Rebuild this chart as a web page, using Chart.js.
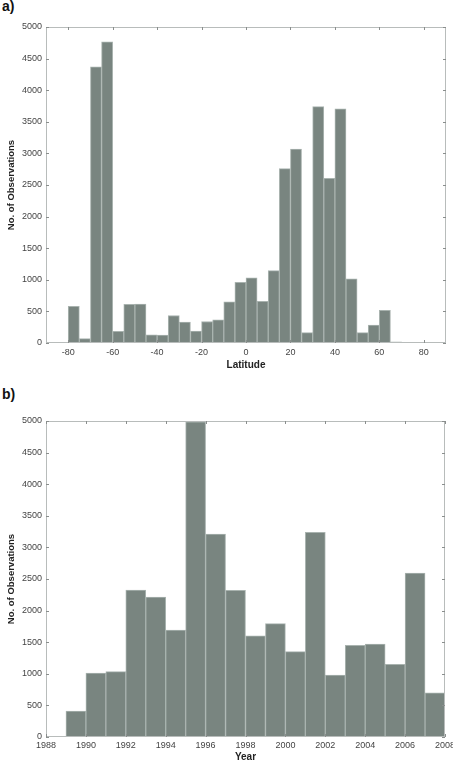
<!DOCTYPE html>
<html>
<head>
<meta charset="utf-8">
<script src="https://cdn.jsdelivr.net/npm/chart.js@4/dist/chart.umd.min.js"></script>
<style>
  html, body { margin: 0; padding: 0; background: #fff; }
  body { width: 453px; height: 763px; position: relative; overflow: hidden; font-family: "Liberation Sans", Arial, sans-serif; }
  .panel { position: absolute; left: 0; width: 453px; }
  .lab { position: absolute; left: 2px; font-weight: bold; font-size: 14px; color: #111; }
</style>
</head>
<body>
<div class="lab" style="top:-2px;">a)</div>
<div class="lab" style="top:386px;">b)</div>
<div class="panel" style="top:0;height:375px;"><canvas id="c1" width="453" height="375"></canvas></div>
<div class="panel" style="top:375px;height:388px;"><canvas id="c2" width="453" height="388"></canvas></div>
<script>
// ---- Data ----
// Latitude histogram: 5-degree bins, lower edges
const latBinStarts = [-80,-75,-70,-65,-60,-55,-50,-45,-40,-35,-30,-25,-20,-15,-10,-5,0,5,10,15,20,25,30,35,40,45,50,55,60,65];
const latCounts    = [580,70,4370,4765,185,610,615,130,125,435,330,190,340,365,650,960,1030,660,1145,2760,3070,165,3740,2605,3705,1015,165,285,515,20];
const latTicks     = [-80,-60,-40,-20,0,20,40,60,80];

// Year histogram: 1-year bins, lower edges
const yearBinStarts = [1988,1989,1990,1991,1992,1993,1994,1995,1996,1997,1998,1999,2000,2001,2002,2003,2004,2005,2006,2007];
const yearCounts    = [0,410,1010,1035,2325,2215,1690,4985,3210,2320,1600,1795,1350,3240,980,1450,1470,1150,2595,700];
const yearTicks     = [1988,1990,1992,1994,1996,1998,2000,2002,2004,2006,2008];

const countTicks    = [0,500,1000,1500,2000,2500,3000,3500,4000,4500,5000];

const BAR = '#798580';
const EDGE = '#a9b3af';

const framePlugin = {
  id: 'frame',
  afterDraw(chart) {
    const ctx = chart.ctx, a = chart.chartArea, xs = chart.scales.x, ys = chart.scales.y;
    ctx.save();
    ctx.strokeStyle = '#b8bcbb';
    ctx.lineWidth = 1;
    ctx.strokeRect(Math.round(a.left) + 0.5, Math.round(a.top) + 0.5, Math.round(a.right - a.left) - 1, Math.round(a.bottom - a.top) - 1);
    ctx.strokeStyle = '#8a8e8d';
    const L = 3;
    ctx.beginPath();
    xs.ticks.forEach(t => {
      const px = Math.round(xs.getPixelForValue(t.value)) + 0.5;
      ctx.moveTo(px, a.bottom); ctx.lineTo(px, a.bottom - L);
      ctx.moveTo(px, a.top); ctx.lineTo(px, a.top + L);
    });
    ys.ticks.forEach(t => {
      const py = Math.round(ys.getPixelForValue(t.value)) + 0.5;
      ctx.moveTo(a.left, py); ctx.lineTo(a.left + L, py);
      ctx.moveTo(a.right, py); ctx.lineTo(a.right - L, py);
    });
    ctx.stroke();
    ctx.restore();
  }
};

function makeChart(id, starts, counts, width, xmin, xmax, xticks, xTitle, pad, yW, xH, xTitlePad, tickPad) {
  const pts = starts.map((s, i) => ({ x: s + width / 2, y: counts[i] }));
  return new Chart(document.getElementById(id), {
    type: 'bar',
    data: { datasets: [{ data: pts, backgroundColor: BAR, borderColor: EDGE, borderWidth: 1, barPercentage: 1, categoryPercentage: 1 }] },
    options: {
      responsive: false, animation: false, events: [],
      layout: { padding: pad },
      plugins: { legend: { display: false }, tooltip: { enabled: false } },
      scales: {
        x: {
          type: 'linear', min: xmin, max: xmax, offset: false,
          afterBuildTicks: s => { s.ticks = xticks.map(v => ({ value: v })); },
          afterFit: s => { s.height = xH; s.paddingLeft = 0; s.paddingRight = 0; },
          grid: { display: false, drawTicks: false }, border: { display: false },
          ticks: { color: '#444', font: { family: 'Liberation Sans', size: 9 }, padding: tickPad, maxRotation: 0, autoSkip: false, callback: v => String(v) },
          title: { display: true, text: xTitle, color: '#222', font: { family: 'Liberation Sans', size: 10, weight: 'bold' }, padding: xTitlePad }
        },
        y: {
          min: 0, max: 5000,
          afterBuildTicks: s => { s.ticks = countTicks.map(v => ({ value: v })); },
          afterFit: s => { s.width = yW; },
          grid: { display: false, drawTicks: false }, border: { display: false },
          ticks: { color: '#444', font: { family: 'Liberation Sans', size: 9 }, padding: 4, callback: v => String(v) },
          title: { display: true, text: 'No. of Observations', color: '#222', font: { family: 'Liberation Sans', size: 9.5, weight: 'bold' }, padding: { top: 6, bottom: 0 } }
        }
      }
    },
    plugins: [framePlugin]
  });
}

makeChart('c1', latBinStarts, latCounts, 5, -90, 90, latTicks, 'Latitude',
  { left: 0, right: 7, top: 27, bottom: 0 }, 46, 32, { top: 0, bottom: 4 }, 4);
makeChart('c2', yearBinStarts, yearCounts, 1, 1988, 2008, yearTicks, 'Year',
  { left: 0, right: 8, top: 46, bottom: 0 }, 46, 26, { top: 0, bottom: 0 }, 3);
</script>
</body>
</html>
